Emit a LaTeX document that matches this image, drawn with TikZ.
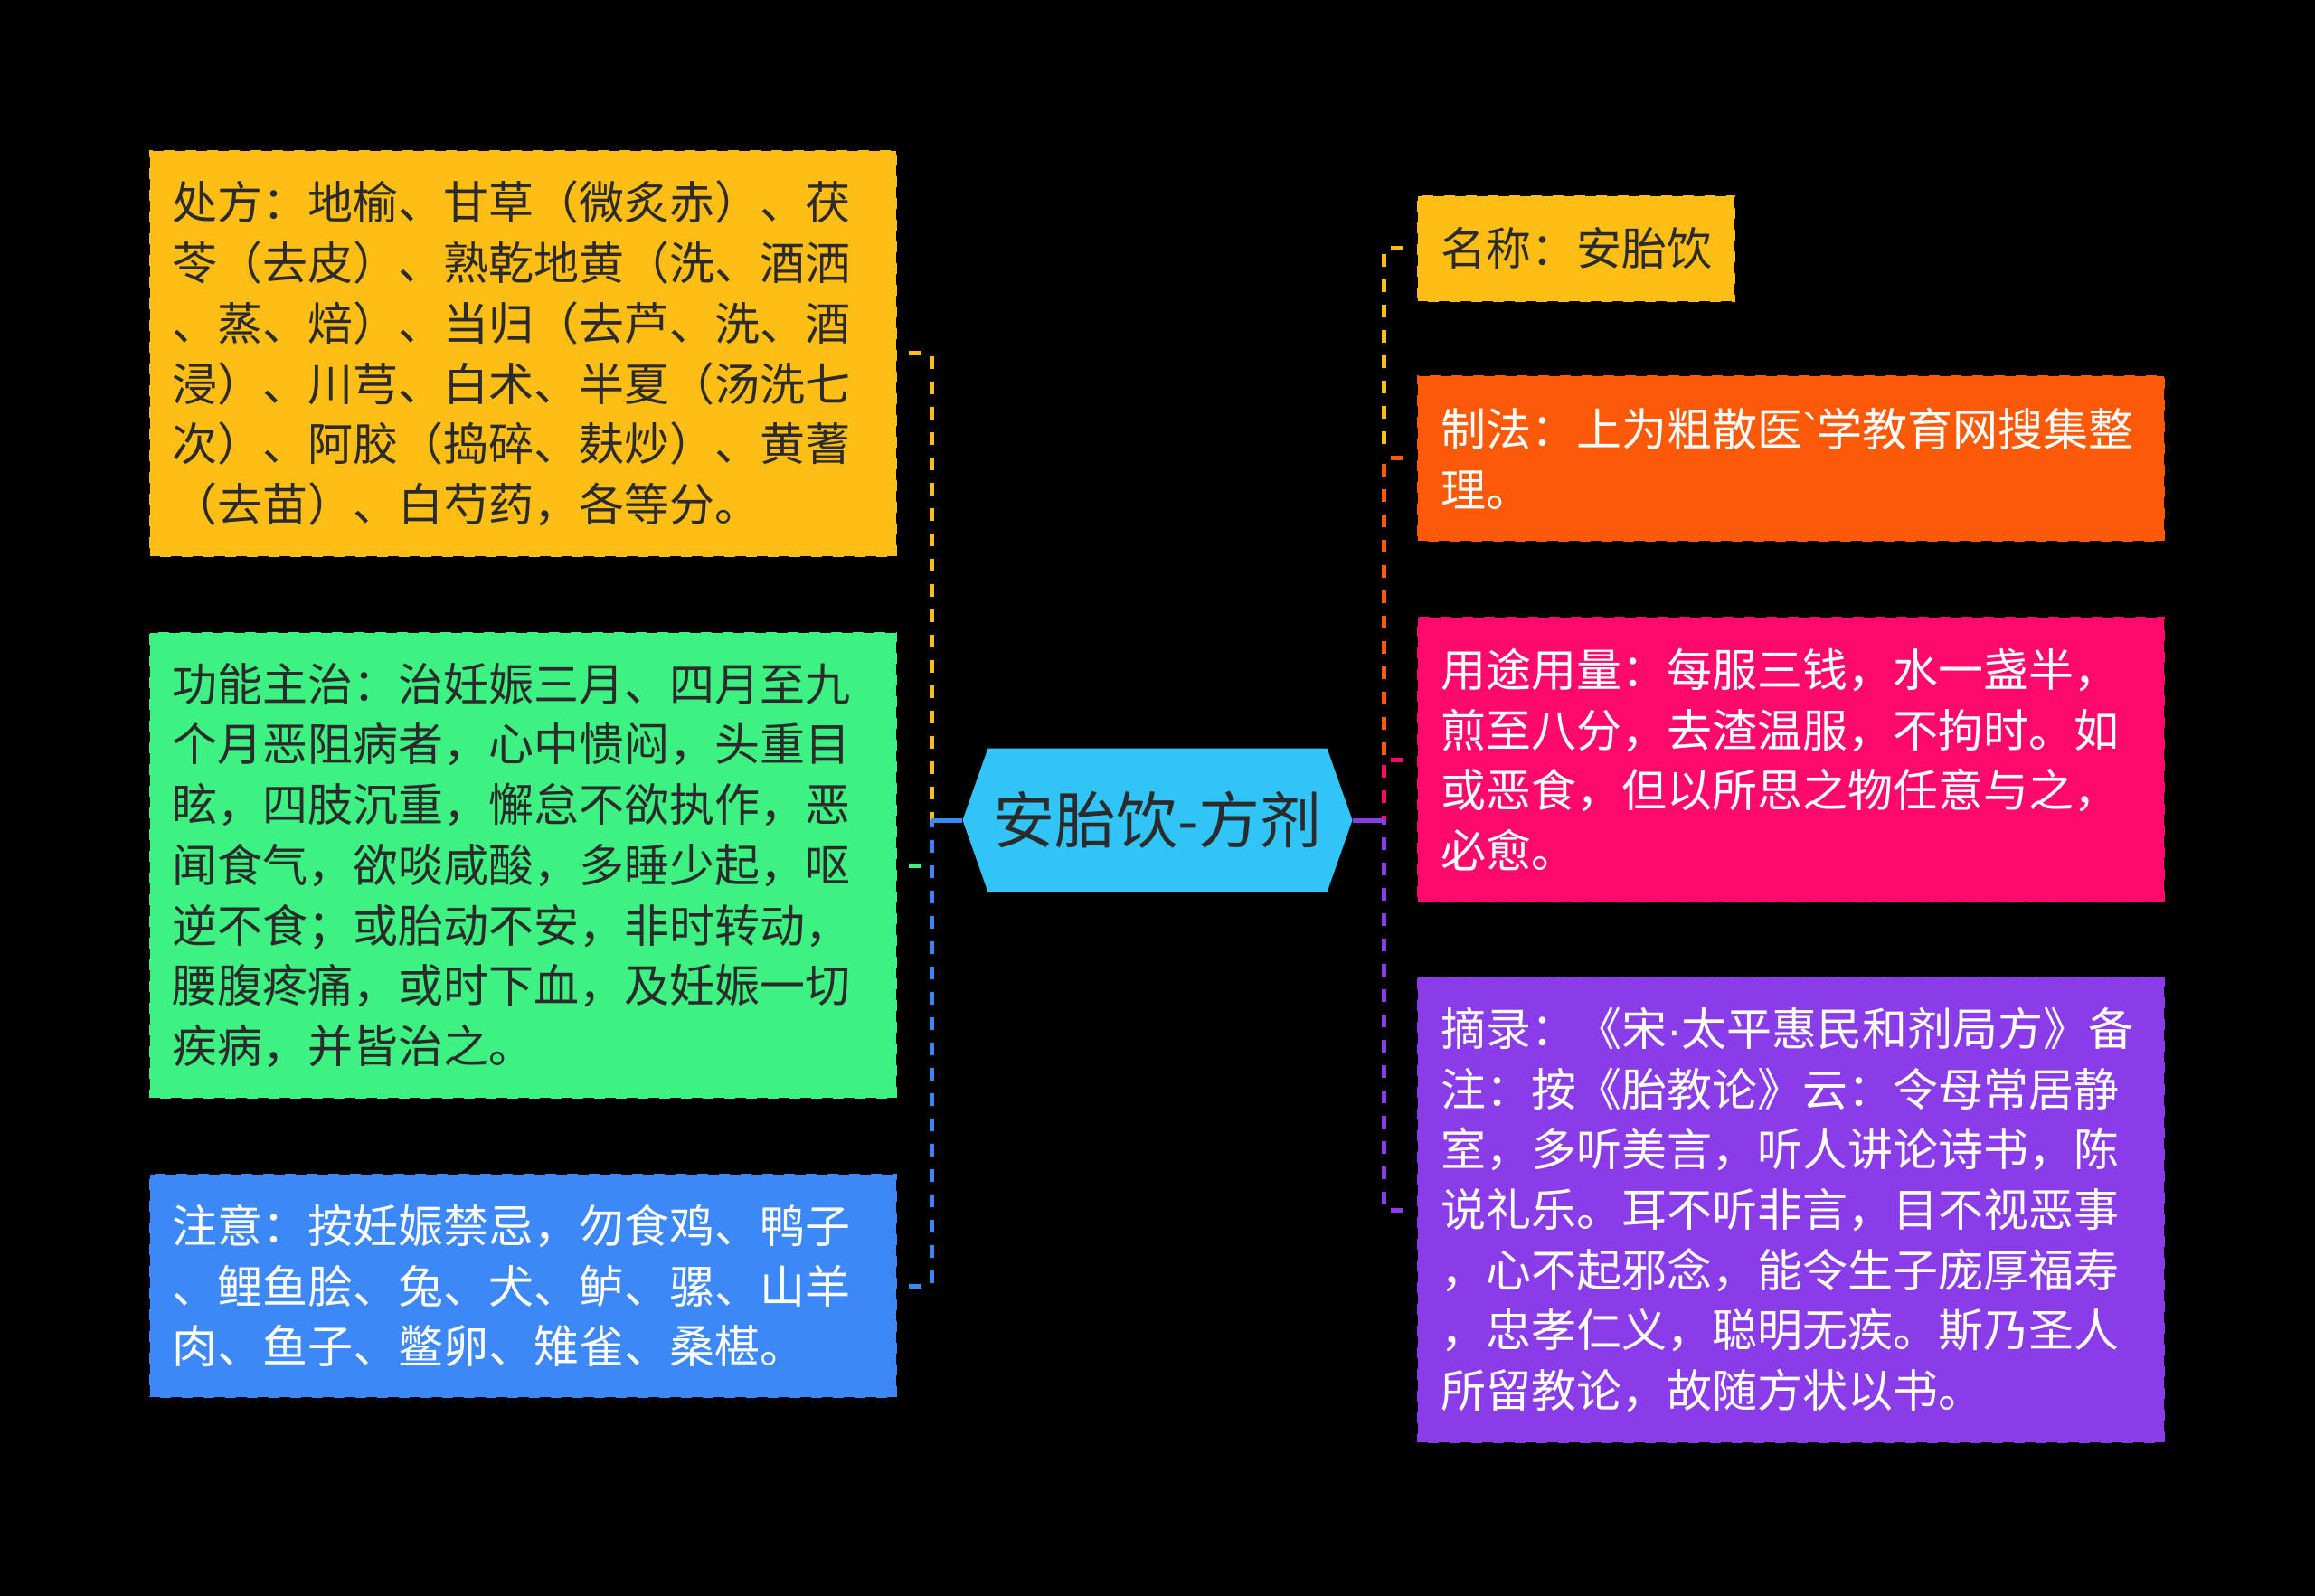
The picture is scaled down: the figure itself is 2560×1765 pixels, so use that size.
\documentclass[tikz,border=0pt]{standalone}
\usepackage{fontspec}
\setmainfont{Noto Sans CJK SC}[Ligatures=TeXOff]
\newfontfamily\latinfont{Liberation Sans}[Ligatures=TeXOff]
\usetikzlibrary{calc}
\definecolor{ink}{HTML}{2B2B2B}
\definecolor{amber}{HTML}{FEBE15}
\definecolor{mint}{HTML}{3DF283}
\definecolor{sky}{HTML}{3C88F7}
\definecolor{flame}{HTML}{FC5A08}
\definecolor{rose}{HTML}{FD0A6C}
\definecolor{grape}{HTML}{8A3CE9}
\definecolor{hubcyan}{HTML}{30C5F6}

\begin{document}
\begin{tikzpicture}[x=0.5pt,y=-0.5pt,
  kidbox/.style={draw=black,line width=1.2pt,dash pattern=on 6pt off 6pt,
    inner xsep=13pt,inner ysep=2pt,text width=387.5pt,align=left,
    font=\fontsize{25pt}{33.35pt}\selectfont},
  hubnode/.style={minimum width=215.5pt,minimum height=79.5pt,inner sep=0pt,
    text=ink,font=\fontsize{34pt}{40pt}\selectfont,
    path picture={\fill[hubcyan] (path picture bounding box.west)
      -- ([xshift=14pt]path picture bounding box.north west)
      -- ([xshift=-14pt]path picture bounding box.north east)
      -- (path picture bounding box.east)
      -- ([xshift=-14pt]path picture bounding box.south east)
      -- ([xshift=14pt]path picture bounding box.south west) -- cycle;}},
  link/.style={line width=2.5pt},
  dashlink/.style={link,dash pattern=on 7pt off 7pt}]
  \fill[black] (0,0) rectangle (2560,1765);
  \path[use as bounding box] (0,0) rectangle (2560,1765);

  % centre
  \node[hubnode] (hub) at (1280,907) {安胎饮-方剂};

  % left column
  \node[kidbox,fill=amber,text=ink,anchor=east,minimum height=225pt] (fangzi) at (993,391)
    {处方：地榆、甘草（微炙赤）、茯\\苓（去皮）、熟乾地黄（洗、酒洒\\、蒸、焙）、当归（去芦、洗、酒\\浸）、川芎、白术、半夏（汤洗七\\次）、阿胶（捣碎、麸炒）、黄蓍\\（去苗）、白芍药，各等分。};
  \node[kidbox,fill=mint,text=ink,anchor=east,minimum height=258pt] (gongneng) at (993,957)
    {功能主治：治妊娠三月、四月至九\\个月恶阻病者，心中愦闷，头重目\\眩，四肢沉重，懈怠不欲执作，恶\\闻食气，欲啖咸酸，多睡少起，呕\\逆不食；或胎动不安，非时转动，\\腰腹疼痛，或时下血，及妊娠一切\\疾病，并皆治之。};
  \node[kidbox,fill=sky,text=white,anchor=east,minimum height=124pt] (zhuyi) at (993,1422)
    {注意：按妊娠禁忌，勿食鸡、鸭子\\、鲤鱼脍、兔、犬、鲈、骡、山羊\\肉、鱼子、鳖卵、雉雀、桑椹。};

  % right column
  \node[kidbox,fill=amber,text=ink,anchor=west,minimum height=59pt,text width=150pt] (mingcheng) at (1566,275)
    {名称：安胎饮};
  \node[kidbox,fill=flame,text=white,anchor=west,minimum height=92pt] (zhifa) at (1566,507)
    {制法：上为粗散医{\latinfont `}学教育网搜集整\\理。};
  \node[kidbox,fill=rose,text=white,anchor=west,minimum height=158pt] (yongtu) at (1566,840)
    {用途用量：每服三钱，水一盏半，\\煎至八分，去渣温服，不拘时。如\\或恶食，但以所思之物任意与之，\\必愈。};
  \node[kidbox,fill=grape,text=white,anchor=west,minimum height=258pt] (zhailu) at (1566,1338)
    {摘录：《宋{\latinfont ·}太平惠民和剂局方》备\\注：按《胎教论》云：令母常居静\\室，多听美言，听人讲论诗书，陈\\说礼乐。耳不听非言，目不视恶事\\，心不起邪念，能令生子庞厚福寿\\，忠孝仁义，聪明无疾。斯乃圣人\\所留教论，故随方状以书。};

  % connectors: black underlay first so a later branch hides the shared trunk
  \coordinate (jl) at (1030,907);
  \coordinate (jr) at (1530,907);
  \foreach \kid/\c in {fangzi/amber,gongneng/mint,zhuyi/sky}{
    \draw[link,black] ([xshift=6pt]\kid.east) -| (jl);
    \draw[dashlink,\c] ([xshift=6pt]\kid.east) -| (jl);
    \draw[link,\c] (jl) -- (hub.west);
  }
  \foreach \kid/\c in {mingcheng/amber,zhifa/flame,yongtu/rose,zhailu/grape}{
    \draw[link,black] ([xshift=-7pt]\kid.west) -| (jr);
    \draw[dashlink,\c] ([xshift=-7pt]\kid.west) -| (jr);
    \draw[link,\c] (jr) -- (hub.east);
  }
\end{tikzpicture}
\end{document}
